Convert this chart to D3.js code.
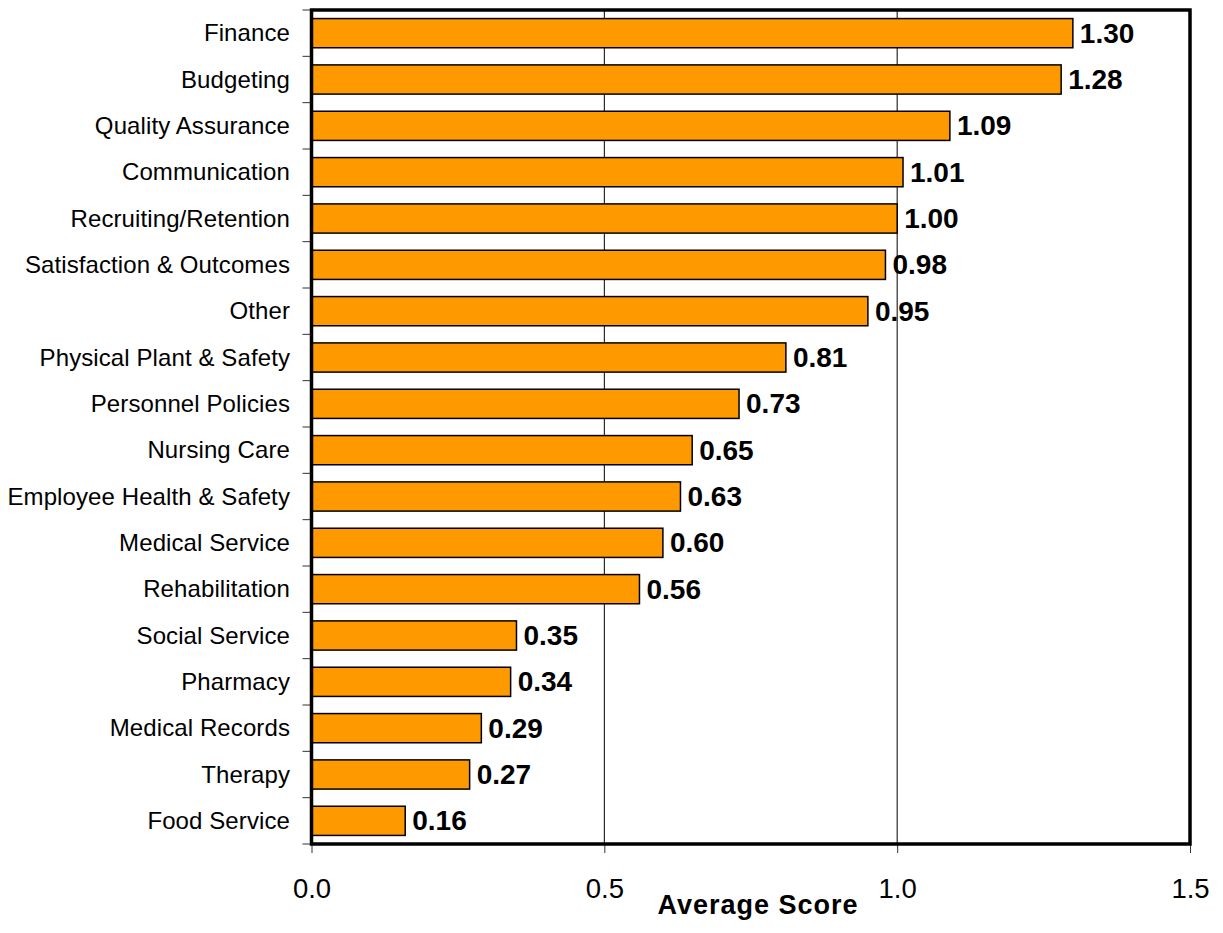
<!DOCTYPE html>
<html>
<head>
<meta charset="utf-8">
<script src="https://cdn.jsdelivr.net/npm/d3@7"></script>
<style>
  html, body { margin: 0; padding: 0; background: #fff; }
  svg { display: block; font-family: Arial, "Liberation Sans", sans-serif; }
</style>
</head>
<body>
<svg id="chart" width="1223" height="933"></svg>
<script>
// Average score by area
const categories = [
  "Finance", "Budgeting", "Quality Assurance", "Communication",
  "Recruiting/Retention", "Satisfaction & Outcomes", "Other",
  "Physical Plant & Safety", "Personnel Policies", "Nursing Care",
  "Employee Health & Safety", "Medical Service", "Rehabilitation",
  "Social Service", "Pharmacy", "Medical Records", "Therapy", "Food Service"
];
const scores = [1.30, 1.28, 1.09, 1.01, 1.00, 0.98, 0.95, 0.81, 0.73,
                0.65, 0.63, 0.60, 0.56, 0.35, 0.34, 0.29, 0.27, 0.16];
const xTicks = [0, 0.5, 1.0, 1.5];
const xTitle = "Average Score";

const rows = categories.map((c, i) => ({ name: c, value: scores[i] }));

const svg = d3.select("#chart");
const plotLeft = 311.5, plotRight = 1190, plotTop = 10, plotBottom = 844;

const x = d3.scaleLinear().domain([0, 1.5]).range([plotLeft, plotRight]);
const y = d3.scaleBand().domain(categories).range([plotTop, plotBottom])
  .paddingInner(0.37).paddingOuter(0.185);

// vertical gridlines
svg.append("g").selectAll("line")
  .data(xTicks.filter(t => t > 0 && t < 1.5))
  .join("line")
  .attr("x1", d => x(d)).attr("x2", d => x(d))
  .attr("y1", plotTop).attr("y2", plotBottom)
  .attr("stroke", "#000").attr("stroke-width", 1);

// bottom axis ticks and labels
const xAxis = d3.axisBottom(x).tickValues(xTicks)
  .tickFormat(d3.format(".1f")).tickSize(9).tickPadding(25);
const gx = svg.append("g").attr("transform", `translate(0,${plotBottom})`).call(xAxis);
gx.select(".domain").remove();
gx.selectAll(".tick line").attr("stroke", "#333").attr("stroke-width", 1);
gx.selectAll(".tick text")
  .attr("font-size", 27.5).attr("fill", "#000")
  .attr("font-family", "Arial, 'Liberation Sans', sans-serif");

// left axis: ticks at band boundaries, labels centered on bars
const step = y.step();
const boundaries = d3.range(categories.length + 1).map(i => plotTop + i * step);
svg.append("g").selectAll("line")
  .data(boundaries).join("line")
  .attr("x1", plotLeft - 9).attr("x2", plotLeft)
  .attr("y1", d => d).attr("y2", d => d)
  .attr("stroke", "#333").attr("stroke-width", 1);

svg.append("g").selectAll("text")
  .data(rows).join("text")
  .attr("x", 290)
  .attr("y", d => y(d.name) + y.bandwidth() / 2 + 8)
  .attr("text-anchor", "end")
  .attr("font-size", 24)
  .attr("letter-spacing", 0.1)
  .attr("fill", "#000")
  .text(d => d.name);

// bars
svg.append("g").selectAll("rect")
  .data(rows).join("rect")
  .attr("x", x(0))
  .attr("y", d => y(d.name))
  .attr("width", d => x(d.value) - x(0))
  .attr("height", y.bandwidth())
  .attr("fill", "#FF9900")
  .attr("stroke", "#000").attr("stroke-width", 1.5);

// value labels
svg.append("g").selectAll("text")
  .data(rows).join("text")
  .attr("x", d => x(d.value) + 7)
  .attr("y", d => y(d.name) + y.bandwidth() / 2 + 9.5)
  .attr("font-size", 28)
  .attr("font-weight", "bold")
  .attr("fill", "#000")
  .text(d => d.value.toFixed(2));

// plot frame
svg.append("rect")
  .attr("x", plotLeft).attr("y", plotTop)
  .attr("width", plotRight - plotLeft).attr("height", plotBottom - plotTop)
  .attr("fill", "none").attr("stroke", "#000").attr("stroke-width", 3.5);

// axis title
svg.append("text")
  .attr("x", 758).attr("y", 914)
  .attr("text-anchor", "middle")
  .attr("font-size", 27)
  .attr("font-weight", "bold")
  .attr("letter-spacing", 1)
  .attr("fill", "#000")
  .text(xTitle);
</script>
</body>
</html>
